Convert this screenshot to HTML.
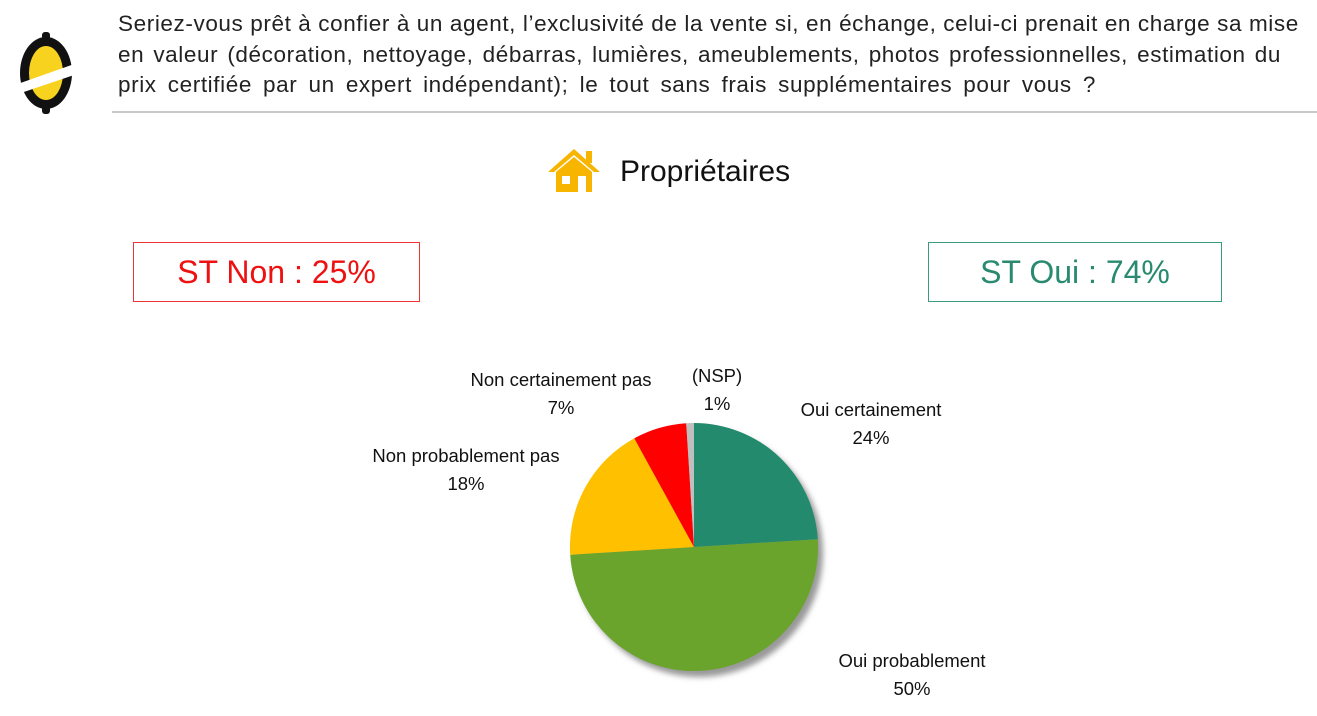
<!DOCTYPE html>
<html><head><meta charset="utf-8"><style>
body{margin:0;width:1317px;height:716px;background:#fff;font-family:"Liberation Sans",sans-serif;position:relative;overflow:hidden}
.q{position:absolute;left:118px;font-size:22.5px;line-height:30px;color:#222;white-space:nowrap;text-align:justify;text-align-last:justify;letter-spacing:0.6px}
.line{position:absolute;left:112px;top:111px;width:1205px;height:2px;background:#c8c8c8}
.box{position:absolute;top:242px;height:58px;font-size:32px;line-height:58px;text-align:center}
.lab{position:absolute;font-size:18.5px;line-height:28px;text-align:center;color:#111;transform:translateX(-50%);white-space:nowrap}
</style></head><body>
<svg style="position:absolute;left:0;top:0" width="120" height="130">
<ellipse cx="46" cy="73" rx="26" ry="36" fill="#111"/>
<rect x="42" y="32" width="8" height="8" rx="3" fill="#111"/>
<rect x="42" y="106" width="8" height="8" rx="3" fill="#111"/>
<ellipse cx="46" cy="73" rx="17" ry="27" fill="#F7D21E"/>
<polygon points="12,86 80,62 80,73 12,96" fill="#fff"/>
</svg>
<div class="q" style="top:9px;width:1179px">Seriez-vous prêt à confier à un agent, l’exclusivité de la vente si, en échange, celui-ci prenait en charge sa mise</div>
<div class="q" style="top:40px;width:1163px">en valeur (décoration, nettoyage, débarras, lumières, ameublements, photos professionnelles, estimation du</div>
<div class="q" style="top:70px;width:978px">prix certifiée par un expert indépendant); le tout sans frais supplémentaires pour vous ?</div>
<div class="line"></div>
<svg style="position:absolute;left:546px;top:146px" width="56" height="48">
<polygon points="28,3 2,26 8,26 28,9 48,26 54,26" fill="#F7B500"/>
<rect x="40" y="5" width="6" height="12" fill="#F7B500"/>
<polygon points="10,26 28,11 46,26 46,46 10,46" fill="#F7B500"/>
<rect x="16" y="30" width="8" height="8" fill="#fff"/><rect x="32" y="30" width="8" height="16" fill="#fff"/>
</svg>
<div style="position:absolute;left:620px;top:155px;font-size:30px;color:#111">Propriétaires</div>
<div class="box" style="left:133px;width:285px;border:1.5px solid #e33;color:#e11">ST Non : 25%</div>
<div class="box" style="left:928px;width:292px;border:1.5px solid #3a9a80;color:#2a8a70">ST Oui : 74%</div>
<svg style="position:absolute;left:0;top:0" width="1317" height="716">
<defs><filter id="f"><feGaussianBlur stdDeviation="3"/></filter></defs>
<circle cx="699" cy="553" r="124" fill="#999" filter="url(#f)"/>
<path d="M694,547 L694,423 A124,124 0 0 1 817.8,539.2Z" fill="#238A6E"/>
<path d="M694,547 L817.8,539.2 A124,124 0 0 1 570.2,554.8Z" fill="#6AA42D"/>
<path d="M694,547 L570.2,554.8 A124,124 0 0 1 634.3,438.3Z" fill="#FFC000"/>
<path d="M694,547 L634.3,438.3 A124,124 0 0 1 686.2,423.2Z" fill="#FF0000"/>
<path d="M694,547 L686.2,423.2 A124,124 0 0 1 694,423Z" fill="#BFBFBF"/>
</svg>
<div class="lab" style="left:561px;top:366px">Non certainement pas<br>7%</div>
<div class="lab" style="left:717px;top:362px">(NSP)<br>1%</div>
<div class="lab" style="left:871px;top:396px">Oui certainement<br>24%</div>
<div class="lab" style="left:466px;top:442px">Non probablement pas<br>18%</div>
<div class="lab" style="left:912px;top:647px">Oui probablement<br>50%</div>
</body></html>
